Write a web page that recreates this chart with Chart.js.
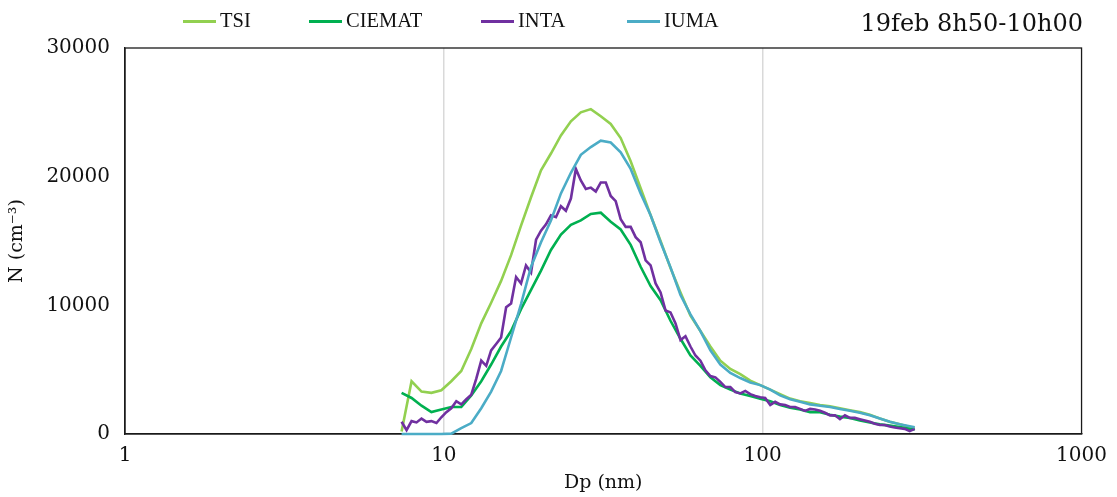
<!DOCTYPE html>
<html lang="es">
  <head>
    <meta charset="UTF-8" />
    <title>Distribución de tamaños 19feb</title>
    <script src="https://cdn.jsdelivr.net/npm/chart.js@4.4.0/dist/chart.umd.min.js"></script>
    <style>
      body { margin: 0; background: #fff; }
      #wrap { position: relative; width: 1117px; height: 497px; }
      .item {
        position: absolute;
        top: 9px;
        font-family: 'Liberation Serif', serif;
        font-size: 20.5px;
        color: #111;
        display: flex;
        align-items: center;
        white-space: nowrap;
      }
      .item .linea {
        display: inline-block;
        width: 33px;
        height: 3px;
        margin-right: 4px;
        position: relative;
        top: 1px;
      }
      #titulo {
        position: absolute;
        right: 34px;
        top: 9px;
        font-family: 'DejaVu Serif', serif;
        font-size: 24px;
        color: #111;
      }
    </style>
  </head>
  <body>
    <div id="wrap">
      <canvas id="grafico" width="1117" height="497"></canvas>
      <div class="item" style="left: 183px"><span class="linea" style="background: #92d050"></span>TSI</div>
      <div class="item" style="left: 309px"><span class="linea" style="background: #00b050"></span>CIEMAT</div>
      <div class="item" style="left: 481px"><span class="linea" style="background: #7030a0"></span>INTA</div>
      <div class="item" style="left: 627px"><span class="linea" style="background: #4bacc6"></span>IUMA</div>
      <div id="titulo">19feb 8h50-10h00</div>
    </div>

    <script>
      // diámetros (nm) de los canales
      const dpGrueso = [
        7.37, 7.92, 8.51, 9.14, 9.82, 10.55, 11.34, 12.19, 13.1, 14.07,
        15.12, 16.25, 17.46, 18.77, 20.17, 21.67, 23.29, 25.03, 26.89, 28.9,
        31.06, 33.37, 35.86, 38.54, 41.42, 44.51, 47.83, 51.39, 55.23, 59.35,
        63.78, 68.54, 73.66, 79.16, 85.06, 91.41, 98.23, 105.6, 113.4, 121.9,
        131.0, 140.8, 151.3, 162.6, 174.7, 187.7, 201.7, 216.8, 233.0, 250.3,
        269.0, 289.1, 299.7
      ];
      const dpFino = [
        7.37, 7.64, 7.92, 8.21, 8.51, 8.82, 9.14, 9.48, 9.82, 10.18,
        10.55, 10.94, 11.34, 11.76, 12.19, 12.64, 13.1, 13.58, 14.07, 14.59,
        15.12, 15.68, 16.25, 16.85, 17.46, 18.1, 18.77, 19.46, 20.17, 20.91,
        21.67, 22.47, 23.29, 24.14, 25.03, 25.94, 26.89, 27.88, 28.9, 29.96,
        31.06, 32.2, 33.37, 34.59, 35.86, 37.18, 38.54, 39.95, 41.42, 42.93,
        44.51, 46.14, 47.83, 49.58, 51.39, 53.28, 55.23, 57.25, 59.35, 61.53,
        63.78, 66.12, 68.54, 71.05, 73.66, 76.36, 79.16, 82.06, 85.06, 88.18,
        91.41, 94.76, 98.23, 101.8, 105.6, 109.4, 113.4, 117.6, 121.9, 126.4,
        131.0, 135.8, 140.8, 145.9, 151.3, 156.8, 162.6, 168.5, 174.7, 181.1,
        187.7, 194.6, 201.7, 209.1, 216.8, 224.7, 233.0, 241.5, 250.3, 259.5,
        269.0, 278.9, 289.1, 299.7
      ];

      // concentraciones N (cm-3)
      const tsi = [
        200, 4100, 3300, 3200, 3400, 4100, 4900, 6600, 8600, 10200,
        11900, 13900, 16200, 18400, 20500, 21800, 23200, 24300, 25000, 25250,
        24700, 24100, 23000, 21200, 19100, 17000, 15000, 12900, 11000, 9200,
        8000, 6800, 5700, 5050, 4650, 4150, 3800, 3450, 3100, 2750,
        2550, 2400, 2250, 2150, 2000, 1850, 1700, 1500, 1200, 950,
        750, 550, 480
      ];
      const ciemat = [
        3200, 2800, 2200, 1700, 1900, 2100, 2100, 3000, 4100, 5400,
        6800, 8000, 9700, 11200, 12700, 14300, 15500, 16250, 16600, 17100,
        17200, 16500, 15900, 14700, 13000, 11500, 10400, 8800, 7400, 6100,
        5300, 4400, 3800, 3450, 3150, 2950, 2750, 2550, 2250, 2050,
        1900, 1700, 1700, 1500, 1350, 1250, 1050, 900, 750, 650,
        550, 400, 350
      ];
      const iuma = [
        0, 0, 0, 0, 0, 30, 450, 850, 2000, 3300,
        4900, 7500, 10100, 13000, 14900, 16600, 18700, 20300, 21700, 22300,
        22800, 22650, 21900, 20600, 18700, 17000, 14900, 12950, 10800, 9300,
        8000, 6500, 5400, 4750, 4350, 4000, 3800, 3450, 3000, 2700,
        2500, 2300, 2200, 2100, 1950, 1800, 1650, 1450, 1200, 950,
        750, 600, 520
      ];
      const inta = [
        950, 300, 1000, 900, 1200, 950, 1000, 850, 1300, 1700,
        2000, 2550, 2300, 2700, 3050, 4300, 5700, 5300, 6500, 7000,
        7500, 9850, 10150, 12200, 11700, 13100, 12550, 15100, 15800, 16300,
        17000, 16850, 17700, 17350, 18300, 20600, 19700, 19050, 19150, 18850,
        19550, 19550, 18500, 18100, 16700, 16100, 16100, 15300, 14900, 13500,
        13100, 11700, 11000, 9600, 9450, 8600, 7300, 7600, 6800, 6100,
        5700, 4950, 4500, 4400, 4050, 3650, 3650, 3250, 3150, 3350,
        3100, 2950, 2850, 2800, 2250, 2500, 2300, 2250, 2100, 2100,
        1950, 1800, 1950, 1900, 1800, 1650, 1450, 1450, 1150, 1450,
        1250, 1250, 1150, 1050, 950, 800, 700, 700, 580, 500,
        450, 400, 220, 400
      ];

      const ticksX = [1, 10, 100, 1000];
      const ticksY = [0, 10000, 20000, 30000];

      const puntos = (xs, ys) => xs.map((x, i) => ({ x: x, y: ys[i] }));

      // marco negro alrededor del área del gráfico (debajo de las líneas)
      const marco = {
        id: 'marco',
        beforeDatasetsDraw(chart) {
          const { ctx, chartArea: a } = chart;
          ctx.save();
          ctx.strokeStyle = '#1a1a1a';
          ctx.lineWidth = 1.3;
          ctx.strokeRect(a.left, a.top, a.right - a.left, a.bottom - a.top);
          ctx.restore();
        },
      };

      const serie = (label, data, color, orden) => ({
        label: label,
        data: data,
        borderColor: color,
        backgroundColor: color,
        borderWidth: 2.6,
        pointRadius: 0,
        tension: 0,
        fill: false,
        clip: 5,
        order: orden,
      });

      new Chart(document.getElementById('grafico'), {
        type: 'line',
        data: {
          datasets: [
            serie('TSI', puntos(dpGrueso, tsi), '#92d050', 4),
            serie('CIEMAT', puntos(dpGrueso, ciemat), '#00b050', 3),
            serie('INTA', puntos(dpFino, inta), '#7030a0', 2),
            serie('IUMA', puntos(dpGrueso, iuma), '#4bacc6', 1),
          ],
        },
        options: {
          responsive: false,
          devicePixelRatio: 1,
          animation: false,
          layout: { padding: { top: 48, right: 34, left: 0, bottom: 0 } },
          plugins: {
            legend: { display: false },
            tooltip: { enabled: false },
          },
          scales: {
            x: {
              type: 'logarithmic',
              min: 1,
              max: 1000,
              afterBuildTicks: (scale) => {
                scale.ticks = ticksX.map((v) => ({ value: v }));
              },
              afterFit: (scale) => {
                scale.height = 63;
              },
              ticks: {
                padding: 10,
                color: '#111',
                font: { family: 'DejaVu Serif', size: 20 },
                autoSkip: false,
                maxRotation: 0,
                callback: (v) => String(v),
              },
              grid: {
                drawTicks: false,
                lineWidth: 1.5,
                color: (ctx) =>
                  ctx.tick && (ctx.tick.value === 10 || ctx.tick.value === 100)
                    ? '#d9d9d9'
                    : 'rgba(0,0,0,0)',
              },
              border: { display: true, color: '#1a1a1a', width: 1.3 },
              title: {
                display: true,
                text: 'Dp (nm)',
                color: '#111',
                font: { family: 'DejaVu Serif', size: 19 },
                padding: { top: 0, bottom: 3 },
              },
            },
            y: {
              type: 'linear',
              min: 0,
              max: 30000,
              afterBuildTicks: (scale) => {
                scale.ticks = ticksY.map((v) => ({ value: v }));
              },
              afterFit: (scale) => {
                scale.width = 125;
              },
              ticks: {
                padding: 15,
                color: '#111',
                font: { family: 'DejaVu Serif', size: 20 },
                callback: (v) => String(v),
              },
              grid: { display: false, drawTicks: false },
              border: { display: true, color: '#1a1a1a', width: 1.3 },
              title: {
                display: true,
                text: 'N (cm⁻³)',
                color: '#111',
                font: { family: 'DejaVu Serif', size: 19 },
                padding: { top: 6, bottom: 0 },
              },
            },
          },
        },
        plugins: [marco],
      });
    </script>
  </body>
</html>
